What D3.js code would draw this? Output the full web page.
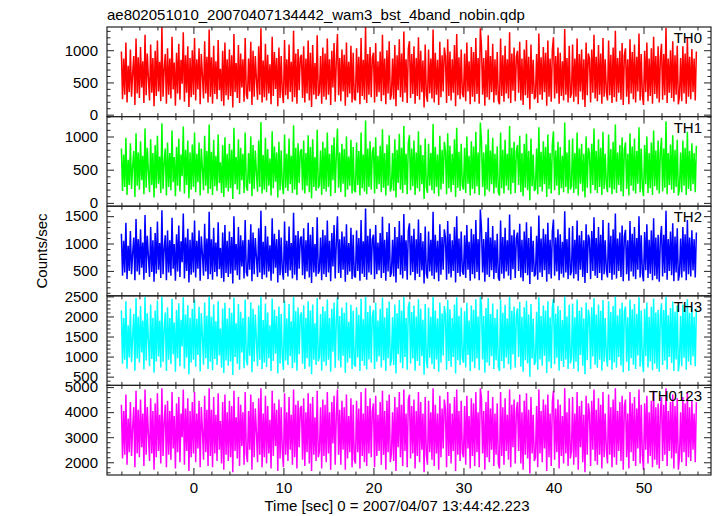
<!DOCTYPE html>
<html><head><meta charset="utf-8">
<script src="https://cdn.jsdelivr.net/npm/d3@7"></script>
<style>
body{margin:0;background:#fff}
svg{display:block}
text{font-family:"Liberation Sans",Arial,Helvetica,sans-serif;font-size:15px;fill:#000}
</style>
</head><body>
<svg id="c" width="717" height="516"></svg>
<script>
// ---- data ----
const titleText = "ae802051010_20070407134442_wam3_bst_4band_nobin.qdp";
const xLabelText = "Time [sec] 0 = 2007/04/07 13:44:42.223";
const yLabelText = "Counts/sec";
const tStart = -8, tStep = 0.125;
const panelNames = ["TH0","TH1","TH2","TH3","TH0123"];
const panelColors = ["#ff0000","#00ff00","#0000ff","#00ffff","#ff00ff"];
const yDomains = [[-30,1360],[-50,1300],[45,1682],[282,2515],[1492,5068]];
const yMajorTicks = [[0,500,1000],[0,500,1000],[500,1000,1500],[500,1000,1500,2000,2500],[2000,3000,4000,5000]];
const yMinorStep = [100,100,100,100,200];
const xMajorTicks = [0,10,20,30,40,50];
const xMinorStep = 2;

const th0 = [
980,240,870,310,1120,190,760,350,1010,280,640,910,150,1180,330,890,
260,1050,420,830,180,1240,300,950,560,220,1090,340,880,130,990,290,
1150,360,820,210,1370,280,700,940,170,1030,310,870,250,1210,390,810,
140,960,330,1100,230,850,480,1280,200,920,340,1060,120,880,270,1000,
310,1190,220,860,390,1030,160,940,600,250,1140,330,900,190,1320,280,
890,170,1070,320,830,240,1160,380,710,210,990,140,1120,300,860,230,
1010,290,920,110,1250,350,800,260,1080,180,950,420,860,200,1190,320,
240,870,360,1130,150,990,280,910,540,230,1060,310,1340,190,840,270,
1100,220,930,330,780,160,1210,290,970,400,880,130,1040,260,910,350,
180,1160,300,860,240,1090,350,820,200,1300,270,950,170,1020,380,890,
930,260,1060,190,870,330,1150,220,960,120,1080,310,800,240,1230,290,
350,910,170,1040,280,950,230,1180,310,860,150,990,420,1110,200,840,
1250,300,880,210,1010,360,930,140,1120,270,820,330,1070,190,960,250,
220,1030,340,900,160,1190,290,850,230,1360,180,940,310,1050,270,880,
960,190,1110,280,830,350,980,210,1240,300,870,160,1000,330,1140,230,
310,870,240,1080,130,920,380,1170,270,950,200,1290,340,860,180,1020,
1140,260,940,320,1060,170,880,290,1200,230,990,350,840,110,1090,300,
200,1010,330,870,250,1320,190,960,310,850,150,1130,270,920,360,1040,
900,180,1170,290,980,220,860,340,1080,130,1250,300,890,240,1010,330,
270,950,210,1120,360,830,160,1050,280,970,200,1190,320,880,170,1340,
1060,310,880,140,1000,270,1230,230,910,350,1100,190,860,300,970,220,
160,1180,290,920,200,1070,330,860,250,1280,180,950,370,1040,210,900,
990,340,1130,220,870,150,1010,300,1160,260,900,80,1090,320,850,240,
280,940,180,1260,310,890,230,1050,350,960,140,1150,280,870,200,1010,
1200,250,910,330,1040,170,960,290,830,220,1330,310,880,190,1070,260,
330,1090,200,870,280,1180,160,940,360,1010,230,860,120,1120,300,950,
870,190,1010,340,1240,250,900,210,1080,310,950,170,1190,280,860,350,
220,1150,300,930,180,1040,270,1300,200,880,340,990,230,1110,150,920,
1030,280,860,160,1170,330,970,240,1090,190,900,360,1260,220,940,300,
150,990,350,1120,210,870,290,1030,170,1210,320,910,250,1060,190,880,
1100,230,940,300,1350,180,870,340,1000,260,1140,200,920,310,1070,160,
290,880,210,1060,330,950,170,1190,280,900,240,1020,350,870,220,980];
const th1 = [
820,180,730,240,980,120,650,270,900,210,560,780,90,1050,260,760,
200,930,340,710,130,1120,230,830,470,160,960,270,750,80,870,220,
1010,290,700,150,1200,210,600,820,110,910,240,750,190,1090,310,690,
100,840,260,970,170,730,400,1150,140,800,270,940,70,760,200,880,
240,1060,160,740,310,910,110,820,520,190,1010,260,780,140,1180,210,
770,120,950,250,710,180,1030,300,610,150,870,90,990,230,740,170,
890,220,800,60,1130,280,690,200,960,130,830,340,740,150,1060,250,
180,750,290,1000,100,870,210,790,450,170,940,240,1220,140,720,200,
980,160,810,260,670,110,1080,220,850,320,760,80,920,190,790,280,
130,1030,230,740,180,970,280,710,150,1170,200,830,120,900,300,770,
810,190,940,140,750,260,1020,160,840,70,960,240,690,180,1100,220,
280,790,120,920,210,830,170,1060,240,740,100,870,340,990,150,720,
1120,230,760,160,890,290,810,90,1000,200,700,260,950,140,840,190,
160,910,270,780,110,1060,220,730,170,1240,130,820,240,930,200,760,
840,140,990,210,710,280,860,160,1110,230,750,110,880,260,1020,170,
240,750,180,960,80,800,300,1040,200,830,150,1160,270,740,130,900,
1020,190,820,250,940,120,760,220,1080,170,870,280,720,60,970,230,
150,890,260,750,190,1190,140,840,240,730,100,1010,200,800,290,920,
780,130,1050,220,860,160,740,270,960,90,1130,230,770,180,890,260,
200,830,150,1000,290,710,110,930,210,850,140,1070,250,760,120,1210,
940,240,760,100,880,200,1110,170,790,280,980,140,740,230,850,160,
110,1060,220,800,140,950,260,740,190,1160,130,830,300,920,150,780,
870,270,1010,160,750,100,890,230,1040,190,780,40,970,250,730,180,
210,820,130,1140,240,770,170,930,280,840,90,1030,210,750,140,890,
1080,190,790,260,920,120,840,220,710,160,1210,240,760,140,950,200,
260,970,150,750,210,1060,110,820,290,890,170,740,80,1000,230,830,
750,140,890,270,1120,190,780,150,960,240,830,120,1070,210,740,280,
160,1030,230,810,130,920,200,1180,150,760,270,870,170,990,100,800,
910,210,740,110,1050,260,850,180,970,140,780,290,1140,160,820,230,
100,870,280,1000,150,750,220,910,120,1090,250,790,190,940,140,760,
980,170,820,230,1230,130,750,270,880,200,1020,150,800,240,950,110,
220,760,160,940,260,830,120,1070,210,780,180,900,280,750,160,860];
const th2 = [
1180,410,1050,470,1380,350,960,500,1230,440,820,1110,330,1450,490,1080,
430,1260,560,1020,340,1520,460,1140,760,390,1300,480,1060,300,1190,450,
1400,520,1010,370,1610,440,900,1150,330,1240,470,1060,410,1470,540,990,
320,1170,490,1330,390,1040,660,1550,360,1110,500,1270,290,1070,430,1200,
470,1420,380,1050,540,1240,320,1130,800,410,1360,490,1090,350,1580,440,
1080,340,1290,480,1020,400,1390,530,920,370,1200,300,1340,460,1050,390,
1220,450,1120,270,1500,510,990,420,1300,340,1150,580,1060,360,1430,480,
400,1070,520,1350,310,1200,440,1100,740,390,1280,470,1600,350,1030,430,
1320,380,1130,490,970,320,1460,450,1180,560,1080,290,1250,420,1110,510,
340,1400,460,1050,400,1310,510,1010,360,1560,430,1150,330,1230,540,1090,
1130,420,1280,350,1060,490,1380,380,1160,280,1300,470,990,400,1480,450,
510,1110,330,1250,440,1150,390,1420,470,1050,310,1190,580,1340,360,1030,
1500,460,1080,370,1220,520,1130,300,1350,430,1010,490,1290,350,1160,410,
380,1240,500,1100,320,1430,450,1040,390,1640,340,1140,470,1270,430,1080,
1160,350,1340,440,1020,510,1190,370,1490,460,1070,320,1210,490,1370,390,
470,1070,400,1300,290,1120,540,1410,430,1150,360,1540,500,1060,340,1230,
1370,420,1140,480,1270,330,1080,450,1440,390,1190,510,1040,270,1310,460,
360,1220,490,1070,410,1580,350,1160,470,1050,310,1350,430,1120,520,1260,
1100,340,1410,450,1180,380,1060,500,1300,290,1500,460,1090,400,1220,490,
430,1150,370,1340,520,1030,320,1270,440,1170,360,1430,480,1080,330,1620,
1280,470,1080,300,1210,430,1470,390,1110,510,1320,350,1060,460,1180,380,
320,1420,450,1120,360,1290,490,1060,410,1530,340,1150,530,1250,370,1100,
1200,500,1360,380,1070,310,1220,460,1390,420,1100,260,1310,480,1050,400,
440,1140,340,1510,470,1090,390,1270,510,1170,300,1380,440,1070,360,1220,
1440,410,1110,490,1260,330,1170,450,1030,380,1590,470,1080,350,1290,420,
490,1320,360,1070,440,1420,320,1150,520,1230,390,1060,280,1350,460,1160,
1070,350,1230,500,1480,410,1100,370,1300,460,1160,330,1430,440,1060,510,
380,1380,460,1140,340,1260,430,1550,360,1090,500,1200,390,1330,310,1130,
1250,440,1060,320,1410,490,1180,400,1300,350,1100,520,1500,380,1150,460,
310,1210,510,1350,370,1070,450,1240,330,1460,410,1110,350,1160,300,1080,
1320,400,1160,460,1600,340,1080,500,1220,420,1370,310,1130,470,1280,320,
450,1090,380,1300,490,1170,330,1430,440,1110,400,1240,510,1080,380,1200];
const th3 = [
2150,820,1960,920,2380,700,1780,980,2200,860,1500,2060,650,2460,950,1990,
850,2260,1100,1900,680,2490,900,2080,1400,760,2300,940,1970,600,2150,880,
2400,1000,1890,730,2500,870,1650,2100,640,2230,920,1960,810,2440,1050,1850,
620,2160,960,2330,760,1920,1250,2480,700,2050,980,2280,560,1970,850,2190,
920,2420,750,1940,1040,2240,630,2080,1500,800,2350,960,2020,690,2500,870,
1990,660,2300,940,1880,790,2380,1030,1700,720,2200,590,2340,900,1950,770,
2210,880,2090,540,2470,990,1830,820,2310,670,2120,1100,1960,710,2420,940,
780,1990,1020,2350,610,2190,870,2050,1400,760,2280,920,2500,690,1910,850,
2320,740,2100,960,1780,640,2450,890,2170,1080,2010,580,2250,830,2060,1000,
670,2400,900,1950,790,2310,1010,1880,710,2490,850,2130,650,2220,1060,2030,
2100,820,2280,690,1970,960,2380,750,2150,560,2300,920,1830,790,2460,880,
1000,2060,650,2250,870,2130,770,2420,920,1960,620,2190,1120,2340,720,1900,
2480,900,2010,730,2220,1020,2090,600,2350,850,1870,960,2290,690,2140,810,
750,2230,980,2040,640,2440,890,1930,770,2500,680,2110,930,2270,850,2000,
2160,690,2340,870,1900,1000,2190,730,2470,910,1980,640,2210,960,2370,770,
930,1980,790,2300,580,2080,1060,2410,850,2140,710,2490,990,1960,670,2230,
2370,830,2110,950,2270,650,2000,890,2430,770,2190,1010,1920,550,2310,910,
710,2220,970,1990,810,2500,690,2150,930,1950,620,2350,850,2080,1030,2260,
2040,670,2410,890,2180,750,1960,990,2300,580,2480,910,2020,790,2220,970,
850,2130,730,2340,1040,1900,640,2270,870,2170,710,2430,950,2000,660,2500,
2280,930,2010,600,2210,850,2460,770,2060,1010,2320,690,1970,910,2180,750,
640,2420,890,2090,710,2290,980,1950,810,2490,680,2140,1050,2250,730,2030,
2200,990,2360,750,1990,620,2230,910,2390,830,2050,500,2310,950,1940,790,
870,2120,670,2480,930,2010,770,2270,1020,2150,590,2380,870,1980,710,2220,
2440,810,2070,970,2260,650,2160,890,1910,740,2500,930,2000,690,2290,830,
980,2320,700,1980,870,2420,630,2140,1040,2230,770,1950,560,2350,910,2170,
1970,690,2230,1000,2460,800,2050,720,2300,920,2140,650,2410,870,1960,1010,
750,2380,910,2110,670,2260,850,2500,720,2030,990,2200,780,2340,610,2120,
2250,870,1980,640,2420,960,2180,800,2310,690,2060,1030,2480,750,2150,900,
610,2190,1010,2350,730,1990,880,2240,660,2450,820,2100,700,2170,620,2020,
2330,790,2160,900,2500,680,2030,990,2210,840,2370,640,2120,930,2280,630,
890,2010,760,2300,970,2180,670,2430,880,2090,790,2230,1000,1990,760,2200];
const th0123 = [
4300,2150,4050,2300,4700,1900,3750,2400,4400,2250,3400,4200,1800,4850,2350,4100,
2200,4500,2600,3950,1850,4900,2300,4200,3100,2050,4550,2350,4050,1700,4350,2200,
4750,2450,3900,1950,4950,2250,3600,4300,1800,4450,2300,4050,2100,4800,2550,3850,
1750,4350,2400,4600,2000,3950,3000,4900,1900,4150,2450,4550,1650,4050,2200,4400,
2350,4800,2000,3950,2550,4450,1800,4200,3300,2100,4650,2400,4100,1850,4950,2250,
4100,1800,4600,2350,3900,2050,4750,2500,3650,1950,4400,1700,4700,2300,4000,2050,
4450,2200,4250,1600,4850,2450,3800,2150,4600,1850,4300,2650,4000,1900,4800,2350,
2000,4050,2500,4700,1700,4400,2200,4150,3200,2000,4550,2300,4950,1800,3950,2200,
4650,1950,4250,2350,3700,1750,4850,2250,4350,2650,4100,1650,4500,2150,4200,2450,
1800,4750,2300,4000,2050,4600,2500,3900,1900,4900,2200,4300,1750,4450,2600,4150,
4250,2100,4550,1850,4000,2400,4750,1950,4350,1650,4600,2300,3800,2050,4850,2200,
2450,4200,1750,4500,2250,4300,2000,4800,2350,4000,1700,4400,2750,4650,1900,3900,
4900,2300,4100,1900,4450,2500,4200,1700,4700,2150,3850,2400,4550,1800,4300,2100,
1950,4450,2400,4150,1750,4800,2250,3950,2000,4950,1850,4250,2350,4550,2200,4050,
4350,1800,4650,2250,3900,2450,4400,1900,4850,2300,4050,1700,4450,2400,4700,2000,
2350,4000,2050,4600,1650,4200,2600,4800,2200,4300,1850,4900,2450,3950,1800,4500,
4700,2150,4250,2350,4500,1750,4050,2250,4800,2000,4400,2500,3950,1600,4600,2300,
1900,4450,2400,4000,2100,4950,1850,4300,2350,3950,1700,4650,2200,4150,2550,4500,
4100,1800,4800,2250,4350,1950,3950,2450,4600,1650,4900,2300,4050,2050,4450,2400,
2200,4250,1900,4650,2550,3850,1750,4550,2250,4350,1850,4800,2400,4000,1800,4950,
4550,2350,4050,1700,4400,2200,4850,2000,4150,2500,4600,1850,3950,2300,4350,1950,
1750,4800,2250,4200,1900,4550,2450,3900,2100,4900,1800,4300,2600,4500,1950,4050,
4400,2450,4700,1950,4000,1700,4450,2300,4750,2150,4100,1550,4600,2350,3900,2050,
2200,4250,1800,4900,2350,4050,2000,4500,2550,4300,1650,4700,2200,3950,1850,4400,
4850,2100,4150,2400,4500,1750,4300,2250,3850,1950,4950,2350,4000,1850,4550,2150,
2450,4600,1900,3950,2200,4800,1700,4250,2600,4450,2000,3900,1600,4650,2300,4350,
3950,1850,4450,2500,4900,2050,4100,1900,4550,2300,4300,1750,4800,2200,3950,2500,
1950,4700,2300,4200,1800,4500,2200,4950,1900,4050,2450,4400,2050,4650,1700,4250,
4500,2200,3950,1750,4800,2400,4350,2050,4600,1850,4150,2550,4900,1950,4300,2300,
1700,4350,2500,4650,1950,4000,2250,4450,1800,4850,2100,4200,1900,4350,1750,4050,
4600,2050,4300,2300,4950,1850,4050,2450,4400,2150,4700,1750,4250,2350,4550,1700,
2250,4000,2000,4600,2400,4350,1850,4800,2200,4200,2050,4450,2500,3950,2000,4400];
const seriesList = [th0, th1, th2, th3, th0123];

// ---- layout ----
const plotL = 107, plotR = 711, plotT = 27, plotB = 475;
const nP = seriesList.length;
const pH = (plotB - plotT) / nP;
const svg = d3.select("#c");
const x = d3.scaleLinear().domain([-9.6, 57.5]).range([plotL, plotR]);
const frameColor = "#222";

function minorTicks(dom, step){
  const a = [];
  for (let v = Math.ceil(dom[0]/step)*step; v <= dom[1]; v += step) a.push(v);
  return a;
}

const xMinor = minorTicks(x.domain(), xMinorStep).filter(v => !xMajorTicks.includes(v));

seriesList.forEach((data, k) => {
  const y0 = plotT + k*pH, y1 = y0 + pH;
  const y = d3.scaleLinear().domain(yDomains[k]).range([y1, y0]);
  const g = svg.append("g");
  const cid = "clip" + k;
  svg.append("clipPath").attr("id", cid).append("rect")
    .attr("x", plotL).attr("y", y0).attr("width", plotR-plotL).attr("height", pH);
  const line = d3.line().x((d,i) => x(tStart + i*tStep)).y(d => y(d));
  g.append("path").datum(data).attr("clip-path", `url(#${cid})`)
    .attr("d", line).attr("fill", "none").attr("stroke", panelColors[k])
    .attr("stroke-width", 1.5).attr("stroke-linejoin", "bevel");

  const yMin = minorTicks(yDomains[k], yMinorStep[k]).filter(v => !yMajorTicks[k].includes(v));
  const axStyle = sel => { sel.select(".domain").remove(); sel.selectAll("line").attr("stroke", frameColor); sel.selectAll("text").attr("font-size", 15).attr("font-family", null).attr("fill", "#000"); };

  svg.append("g").attr("transform", `translate(${plotL},0)`)
    .call(d3.axisLeft(y).tickValues(yMajorTicks[k]).tickSize(-7).tickPadding(9).tickFormat(d3.format("d"))).call(axStyle);
  svg.append("g").attr("transform", `translate(${plotL},0)`)
    .call(d3.axisLeft(y).tickValues(yMin).tickSize(-3.5).tickFormat("")).call(axStyle);
  svg.append("g").attr("transform", `translate(${plotR},0)`)
    .call(d3.axisRight(y).tickValues(yMajorTicks[k]).tickSize(-7).tickFormat("")).call(axStyle);
  svg.append("g").attr("transform", `translate(${plotR},0)`)
    .call(d3.axisRight(y).tickValues(yMin).tickSize(-3.5).tickFormat("")).call(axStyle);
  svg.append("g").attr("transform", `translate(0,${y0})`)
    .call(d3.axisTop(x).tickValues(xMajorTicks).tickSize(-7).tickFormat("")).call(axStyle);
  svg.append("g").attr("transform", `translate(0,${y0})`)
    .call(d3.axisTop(x).tickValues(xMinor).tickSize(-3.5).tickFormat("")).call(axStyle);
  const last = k === nP-1;
  svg.append("g").attr("transform", `translate(0,${y1})`)
    .call(d3.axisBottom(x).tickValues(xMajorTicks).tickSize(-7).tickPadding(7.5).tickFormat(last ? d3.format("d") : "")).call(axStyle);
  svg.append("g").attr("transform", `translate(0,${y1})`)
    .call(d3.axisBottom(x).tickValues(xMinor).tickSize(-3.5).tickFormat("")).call(axStyle);

  svg.append("rect").attr("x", plotL).attr("y", y0).attr("width", plotR-plotL).attr("height", pH)
    .attr("fill", "none").attr("stroke", frameColor).attr("stroke-width", 1.2);

  svg.append("text").attr("x", 702).attr("y", y0 + 16).attr("text-anchor", "end").text(panelNames[k]);
});

svg.append("text").attr("x", 107).attr("y", 20).text(titleText);
svg.append("text").attr("x", (plotL+plotR)/2 - 12).attr("y", 511).attr("text-anchor", "middle").text(xLabelText);
svg.append("text").attr("transform", `translate(47,${(plotT+plotB)/2}) rotate(-90)`).attr("text-anchor", "middle").text(yLabelText);
</script>
</body></html>
